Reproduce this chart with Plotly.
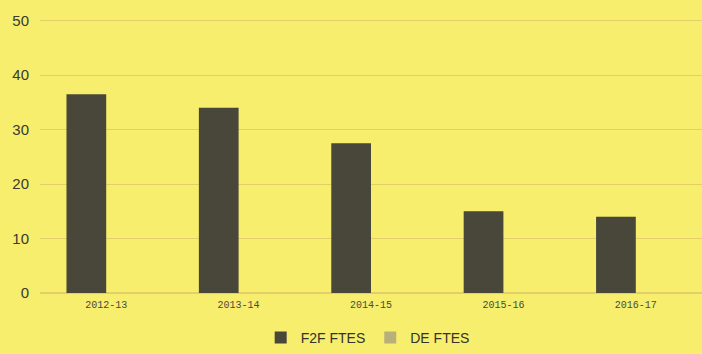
import plotly.graph_objects as go

categories = ["2012-13", "2013-14", "2014-15", "2015-16", "2016-17"]
f2f_ftes = [36.5, 34, 27.5, 15, 14]
de_ftes = [0, 0, 0, 0, 0]
y_ticks = [0, 10, 20, 30, 40, 50]

bg = "#F6EE6C"
fig = go.Figure()
fig.add_trace(go.Bar(x=categories, y=f2f_ftes, name="F2F FTES",
                     marker=dict(color="#48473A", line=dict(width=0))))
fig.add_trace(go.Bar(x=categories, y=de_ftes, name="DE FTES",
                     marker=dict(color="#B8B07A", line=dict(width=0))))

fig.update_layout(
    width=702, height=354,
    margin=dict(l=40, r=0, t=18, b=61, autoexpand=False),
    paper_bgcolor=bg, plot_bgcolor=bg,
    barmode="group", bargap=0.4, bargroupgap=0,
    showlegend=True,
    legend=dict(orientation="h", x=0.495, xanchor="center", yref="container", y=-0.025,
                yanchor="bottom", font=dict(family="Liberation Sans, Arial", size=14, color="#33332a"),
                bgcolor="rgba(0,0,0,0)", itemwidth=30, tracegroupgap=0),
    xaxis=dict(showgrid=False, showline=False, ticks="", ticklabelstandoff=4,
               tickfont=dict(family="Liberation Mono, monospace", size=10, color="#4a4a40")),
    yaxis=dict(range=[0, 50.5], tickvals=y_ticks, showgrid=True, gridcolor="#E4CE68",
               gridwidth=1, zeroline=True, zerolinecolor="#E4CE68", showline=False,
               tickfont=dict(family="Liberation Sans, Arial", size=15, color="#3a3a30"),
               ticklabelstandoff=10),
)

fig.write_html("out.html")
